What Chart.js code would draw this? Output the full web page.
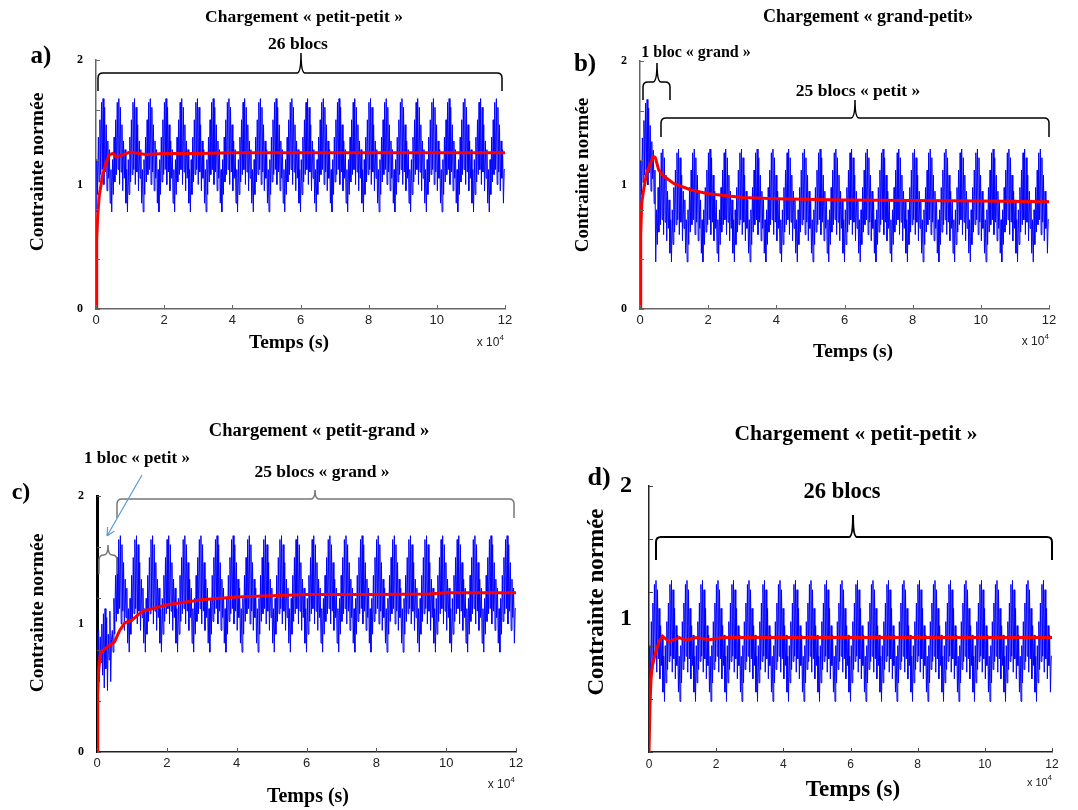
<!DOCTYPE html>
<html>
<head>
<meta charset="utf-8">
<script src="https://cdn.jsdelivr.net/npm/chart.js@4.4.0/dist/chart.umd.min.js"></script>
<style>
  body { margin: 0; background: #fff; }
  #wrap { position: relative; width: 1078px; height: 810px; }
  canvas { position: absolute; }
</style>
</head>
<body>
<div id="wrap">
  <canvas id="ca" width="540" height="405" style="left:0;top:0"></canvas>
  <canvas id="cb" width="538" height="405" style="left:540px;top:0"></canvas>
  <canvas id="cc" width="540" height="405" style="left:0;top:405px"></canvas>
  <canvas id="cd" width="538" height="405" style="left:540px;top:405px"></canvas>
</div>
<script>
// time axis (s) and tick labels
let timeMax = 120000;
let xTickValues = [0, 20000, 40000, 60000, 80000, 100000, 120000];
let yMarkValues = [0, 0.4, 0.8, 1.2, 1.6, 2];
let blockCount = 26;

// one loading block (normalised stress)
let grandBlock = [0.78, 1.20, 0.92, 1.38, 1.02, 1.52, 1.08, 1.66, 1.12, 1.69, 1.00, 1.62, 1.10, 1.48, 0.95, 1.35, 1.05, 1.28, 0.85, 1.12];
let petitBlock = [0.38, 0.80, 0.52, 0.98, 0.62, 1.12, 0.68, 1.26, 0.72, 1.29, 0.60, 1.22, 0.70, 1.08, 0.55, 0.95, 0.65, 0.88, 0.45, 0.72];
let petitFirstC = [0.92, 0.62, 0.95, 0.55, 0.90, 0.70, 1.00, 0.60, 1.08, 0.50, 1.12, 0.65, 1.05, 0.48, 0.92, 0.72, 1.10, 0.55, 0.88, 0.95];

// sequence of blocks in each test
let orderA = Array(26).fill('grand');
let orderB = ['grand'].concat(Array(25).fill('petit'));
let orderC = ['petitC'].concat(Array(25).fill('grand'));
let orderD = Array(26).fill('petit');

// red curves: time (x 1e4 s) and mean stress
let redTimeA = [0, 0.02, 0.05, 0.1, 0.15, 0.2, 0.3, 0.4, 0.5, 0.6, 0.8, 1.0, 1.5, 2, 3, 4, 6, 8, 10, 12];
let redA     = [0, 0.55, 0.75, 0.92, 1.0, 1.08, 1.18, 1.24, 1.25, 1.22, 1.24, 1.26, 1.24, 1.25, 1.25, 1.255, 1.255, 1.255, 1.255, 1.255];
let redTimeB = [0, 0.02, 0.05, 0.1, 0.2, 0.3, 0.4, 0.45, 0.55, 0.7, 1.0, 1.5, 2, 3, 4, 6, 8, 10, 12];
let redB     = [0, 0.6, 0.85, 0.95, 1.1, 1.17, 1.23, 1.22, 1.12, 1.07, 1.01, 0.96, 0.93, 0.9, 0.89, 0.88, 0.875, 0.87, 0.865];
let redTimeC = [0, 0.02, 0.05, 0.1, 0.2, 0.35, 0.5, 0.65, 0.8, 1.0, 1.3, 1.6, 2, 2.5, 3, 4, 5, 6, 8, 9.5, 10, 12];
let redC     = [0, 0.45, 0.65, 0.77, 0.8, 0.83, 0.86, 0.95, 1.01, 1.03, 1.1, 1.12, 1.15, 1.17, 1.19, 1.21, 1.22, 1.23, 1.23, 1.235, 1.245, 1.245];
let redTimeD = [0, 0.03, 0.06, 0.1, 0.2, 0.3, 0.4, 0.6, 0.9, 1.1, 1.4, 1.8, 2.2, 3, 12];
let redD     = [0, 0.35, 0.55, 0.65, 0.75, 0.83, 0.87, 0.83, 0.86, 0.84, 0.86, 0.845, 0.86, 0.86, 0.86];

let blocks = { grand: grandBlock, petit: petitBlock, petitC: petitFirstC };

function buildSignal(order) {
  let pts = [];
  let dur = timeMax / blockCount;
  order.forEach((name, k) => {
    let b = blocks[name];
    b.forEach((v, j) => pts.push({ x: (k + j / b.length) * dur, y: v }));
  });
  let last = blocks[order[order.length - 1]];
  pts.push({ x: timeMax, y: last[last.length - 1] });
  return pts;
}

function buildRed(times, vals) {
  return times.map((t, i) => ({ x: t * 10000, y: vals[i] }));
}

const SERIF = '"Liberation Serif", "DejaVu Serif", serif';
const SANS = '"Liberation Sans", Arial, sans-serif';

function brace(ctx, b) {
  let r = 5, r2 = 4;
  ctx.beginPath();
  ctx.moveTo(b.x1, b.yEnd);
  ctx.lineTo(b.x1, b.yLine + r);
  ctx.quadraticCurveTo(b.x1, b.yLine, b.x1 + r, b.yLine);
  ctx.lineTo(b.xm - r2, b.yLine);
  ctx.quadraticCurveTo(b.xm, b.yLine, b.xm, b.yTip);
  ctx.quadraticCurveTo(b.xm, b.yLine, b.xm + r2, b.yLine);
  ctx.lineTo(b.x2 - r, b.yLine);
  ctx.quadraticCurveTo(b.x2, b.yLine, b.x2, b.yLine + r);
  ctx.lineTo(b.x2, b.yEnd);
  ctx.strokeStyle = b.color || '#000';
  ctx.lineWidth = b.width || 1.5;
  ctx.stroke();
}

const decor = {
  id: 'decor',
  afterDraw(chart, args, o) {
    let ctx = chart.ctx;
    let x = chart.scales.x, y = chart.scales.y, ca = chart.chartArea;
    ctx.save();
    // inward tick marks
    ctx.strokeStyle = o.tickColor;
    ctx.lineWidth = 1;
    ctx.beginPath();
    xTickValues.forEach(v => {
      let px = Math.round(x.getPixelForValue(v)) + 0.5;
      ctx.moveTo(px, ca.bottom); ctx.lineTo(px, ca.bottom - 4);
    });
    yMarkValues.forEach(v => {
      let py = Math.round(y.getPixelForValue(v)) + 0.5;
      ctx.moveTo(ca.left, py); ctx.lineTo(ca.left + 4, py);
    });
    ctx.stroke();

    (o.braces || []).forEach(b => brace(ctx, b));

    if (o.arrow) {
      let a = o.arrow;
      ctx.strokeStyle = a.color; ctx.lineWidth = 1.2;
      ctx.beginPath();
      ctx.moveTo(a.x1, a.y1); ctx.lineTo(a.x2, a.y2);
      let ang = Math.atan2(a.y2 - a.y1, a.x2 - a.x1);
      ctx.moveTo(a.x2, a.y2);
      ctx.lineTo(a.x2 - 9 * Math.cos(ang - 0.45), a.y2 - 9 * Math.sin(ang - 0.45));
      ctx.moveTo(a.x2, a.y2);
      ctx.lineTo(a.x2 - 9 * Math.cos(ang + 0.45), a.y2 - 9 * Math.sin(ang + 0.45));
      ctx.stroke();
    }

    ctx.fillStyle = '#000';
    ctx.textBaseline = 'middle';
    (o.texts || []).forEach(t => {
      ctx.save();
      ctx.font = t.font;
      ctx.textAlign = 'center';
      ctx.translate(t.x, t.y);
      if (t.rot) ctx.rotate(t.rot);
      ctx.fillText(t.s, 0, 0);
      ctx.restore();
    });

    // x 10^4 multiplier
    let m = o.mult;
    ctx.fillStyle = '#222';
    ctx.font = m.size + 'px ' + SANS;
    ctx.textAlign = 'right';
    let supW = ctx.measureText('4').width * 0.7;
    ctx.fillText('x 10', m.x - supW, m.y);
    ctx.font = Math.round(m.size * 0.7) + 'px ' + SANS;
    ctx.fillText('4', m.x, m.y - m.size * 0.45);
    ctx.restore();
  }
};

const Y_W = 60, X_H = 24;

function makeChart(id, p) {
  let cv = document.getElementById(id);
  let W = cv.width, H = cv.height;
  return new Chart(cv, {
    type: 'line',
    data: {
      datasets: [
        { data: p.red, borderColor: '#ff0000', borderWidth: 3, pointRadius: 0, tension: 0 },
        { data: p.blue, borderColor: '#0000ff', borderWidth: 1, pointRadius: 0, tension: 0 }
      ]
    },
    options: {
      responsive: false,
      animation: false,
      events: [],
      layout: { padding: { left: p.area.l - Y_W, right: W - p.area.r, top: p.area.t, bottom: H - p.area.b - X_H } },
      plugins: {
        legend: { display: false },
        tooltip: { enabled: false },
        decor: p.decor
      },
      scales: {
        x: {
          type: 'linear', min: 0, max: timeMax,
          grid: { display: false, drawTicks: false },
          border: { display: true, color: p.xAxisColor, width: 1.5 },
          afterBuildTicks: s => { s.ticks = xTickValues.map(v => ({ value: v })); },
          ticks: {
            callback: v => String(v / 10000), autoSkip: false, maxRotation: 0,
            font: { family: SANS, size: p.xFont }, color: '#222', padding: p.xPad
          },
          afterFit: s => { s.height = X_H; }
        },
        y: {
          min: 0, max: 2,
          grid: { display: false, drawTicks: false },
          border: { display: true, color: p.yAxisColor, width: p.yAxisWidth },
          afterBuildTicks: s => { s.ticks = p.yLabels.map(v => ({ value: v })); },
          ticks: { font: { family: SERIF, size: p.yFont, weight: 'bold' }, color: '#000', padding: p.yPad },
          afterFit: s => { s.width = Y_W; }
        }
      }
    },
    plugins: [decor]
  });
}

const b = (s, size) => 'bold ' + size + 'px ' + SERIF;

makeChart('ca', {
  area: { l: 96, r: 505, t: 60, b: 309 },
  red: buildRed(redTimeA, redA), blue: buildSignal(orderA),
  xAxisColor: '#666', yAxisColor: '#666', yAxisWidth: 1.5,
  xFont: 13, xPad: 4, yFont: 12, yPad: 13, yLabels: [0, 1, 2],
  decor: {
    tickColor: '#666',
    braces: [{ x1: 98, x2: 502, xm: 301, yLine: 73, yEnd: 91, yTip: 53 }],
    texts: [
      { s: 'Chargement « petit-petit »', x: 304, y: 17, font: b(0, 17.5) },
      { s: '26 blocs', x: 298, y: 44, font: b(0, 17.5) },
      { s: 'a)', x: 41, y: 57, font: b(0, 25) },
      { s: 'Contrainte normée', x: 38, y: 172, font: b(0, 19.5), rot: -Math.PI / 2 },
      { s: 'Temps (s)', x: 289, y: 343, font: b(0, 19.5) }
    ],
    mult: { x: 504, y: 343, size: 12 }
  }
});

makeChart('cb', {
  area: { l: 100, r: 509, t: 61, b: 309 },
  red: buildRed(redTimeB, redB), blue: buildSignal(orderB),
  xAxisColor: '#666', yAxisColor: '#666', yAxisWidth: 1.5,
  xFont: 13, xPad: 4, yFont: 12, yPad: 13, yLabels: [0, 1, 2],
  decor: {
    tickColor: '#666',
    braces: [
      { x1: 103, x2: 130, xm: 117, yLine: 82, yEnd: 100, yTip: 63 },
      { x1: 121, x2: 509, xm: 315, yLine: 118, yEnd: 137, yTip: 100 }
    ],
    texts: [
      { s: 'Chargement « grand-petit»', x: 328, y: 17, font: b(0, 18) },
      { s: '1 bloc « grand »', x: 156, y: 53, font: b(0, 16) },
      { s: '25 blocs « petit »', x: 318, y: 91, font: b(0, 17.5) },
      { s: 'b)', x: 45, y: 65, font: b(0, 25) },
      { s: 'Contrainte normée', x: 43, y: 175, font: b(0, 19), rot: -Math.PI / 2 },
      { s: 'Temps (s)', x: 313, y: 352, font: b(0, 19.5) }
    ],
    mult: { x: 509, y: 342, size: 12 }
  }
});

makeChart('cc', {
  area: { l: 97, r: 516, t: 91, b: 347 },
  red: buildRed(redTimeC, redC), blue: buildSignal(orderC),
  xAxisColor: '#222', yAxisColor: '#000', yAxisWidth: 3,
  xFont: 13, xPad: 4, yFont: 12, yPad: 13, yLabels: [0, 1, 2],
  decor: {
    tickColor: '#555',
    braces: [
      { x1: 99, x2: 117, xm: 108, yLine: 150, yEnd: 169, yTip: 140, color: '#777', width: 1.5 },
      { x1: 117, x2: 514, xm: 315, yLine: 94, yEnd: 113, yTip: 85, color: '#777', width: 1.5 }
    ],
    arrow: { x1: 142, y1: 70, x2: 107, y2: 131, color: '#5b9bd5' },
    texts: [
      { s: 'Chargement « petit-grand »', x: 319, y: 26, font: b(0, 18.5) },
      { s: '1 bloc « petit »', x: 137, y: 54, font: b(0, 17) },
      { s: '25 blocs « grand »', x: 322, y: 67, font: b(0, 17.5) },
      { s: 'c)', x: 21, y: 88, font: b(0, 24) },
      { s: 'Contrainte normée', x: 38, y: 208, font: b(0, 19.5), rot: -Math.PI / 2 },
      { s: 'Temps (s)', x: 308, y: 392, font: b(0, 20) }
    ],
    mult: { x: 515, y: 380, size: 12 }
  }
});

makeChart('cd', {
  area: { l: 109, r: 512, t: 81, b: 347 },
  red: buildRed(redTimeD, redD), blue: buildSignal(orderD),
  xAxisColor: '#222', yAxisColor: '#222', yAxisWidth: 1.5,
  xFont: 12, xPad: 5, yFont: 24, yPad: 17, yLabels: [1, 2],
  decor: {
    tickColor: '#444',
    braces: [{ x1: 116, x2: 512, xm: 313, yLine: 132, yEnd: 155, yTip: 110, width: 2 }],
    texts: [
      { s: 'Chargement « petit-petit »', x: 316, y: 29, font: b(0, 21.5) },
      { s: '26 blocs', x: 302, y: 87, font: b(0, 22.5) },
      { s: 'd)', x: 59, y: 73, font: b(0, 26) },
      { s: 'Contrainte normée', x: 57, y: 197, font: b(0, 23), rot: -Math.PI / 2 },
      { s: 'Temps (s)', x: 313, y: 385, font: b(0, 23) }
    ],
    mult: { x: 512, y: 378, size: 11 }
  }
});
</script>
</body>
</html>
